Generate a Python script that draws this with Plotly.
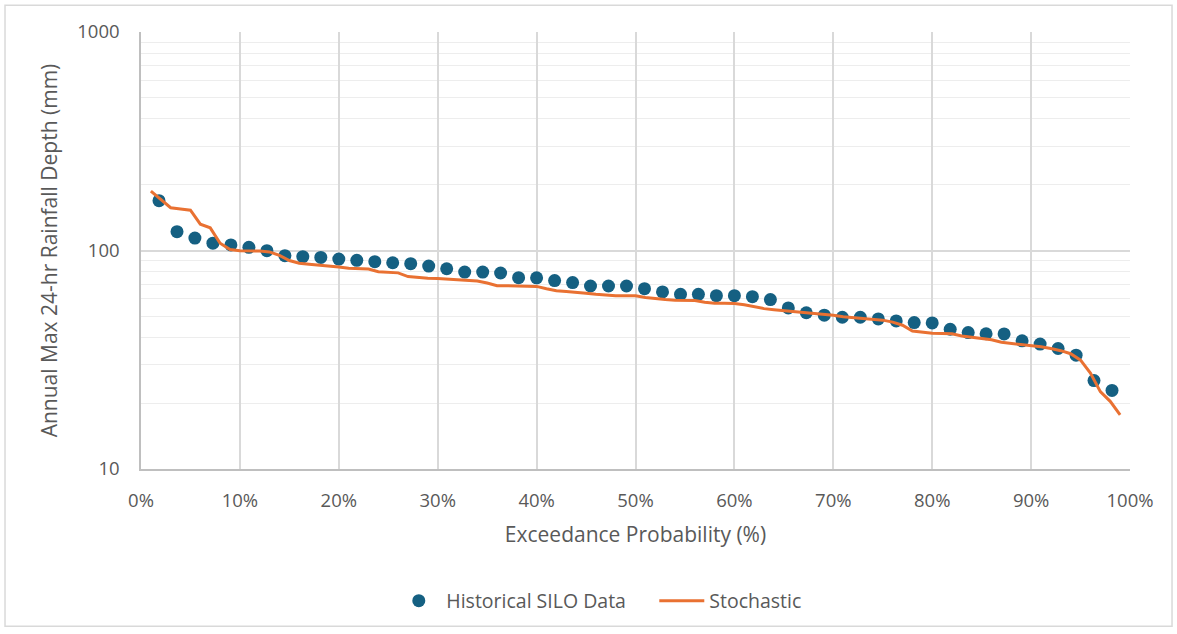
import plotly.graph_objects as go

# Historical SILO annual maxima, ranked (exceedance probability in %, depth in mm)
hist_prob = [1.82, 3.64, 5.45, 7.27, 9.09, 10.91, 12.73, 14.55, 16.36, 18.18,
             20.00, 21.82, 23.64, 25.45, 27.27, 29.09, 30.91, 32.73, 34.55, 36.36,
             38.18, 40.00, 41.82, 43.64, 45.45, 47.27, 49.09, 50.91, 52.73, 54.55,
             56.36, 58.18, 60.00, 61.82, 63.64, 65.45, 67.27, 69.09, 70.91, 72.73,
             74.55, 76.36, 78.18, 80.00, 81.82, 83.64, 85.45, 87.27, 89.09, 90.91,
             92.73, 94.55, 96.36, 98.18]
hist_depth = [169, 122, 114, 108, 106, 103.4, 99.8, 94.7, 93.7, 93.0,
              91.4, 90.2, 88.9, 87.9, 87.0, 84.9, 82.5, 79.7, 79.7, 78.9,
              75.1, 75.0, 72.8, 71.3, 68.8, 68.8, 68.8, 66.9, 64.6, 63.0,
              63.0, 62.1, 62.1, 61.5, 59.6, 54.6, 51.9, 50.6, 49.5, 49.5,
              48.6, 47.6, 46.8, 46.6, 43.6, 42.1, 41.6, 41.5, 38.6, 37.3,
              35.6, 33.2, 25.4, 22.9]

# Stochastic replicate frequency curve
stoch_prob = [1, 2, 3, 4, 5, 6, 7, 8, 9, 10,
              11, 12, 13, 14, 15, 16, 17, 18, 19, 20,
              21, 22, 23, 24, 25, 26, 27, 28, 29, 30,
              31, 32, 33, 34, 35, 36, 37, 38, 39, 40,
              41, 42, 43, 44, 45, 46, 47, 48, 49, 50,
              51, 52, 53, 54, 55, 56, 57, 58, 59, 60,
              61, 62, 63, 64, 65, 66, 67, 68, 69, 70,
              71, 72, 73, 74, 75, 76, 77, 78, 79, 80,
              81, 82, 83, 84, 85, 86, 87, 88, 89, 90,
              91, 92, 93, 94, 95, 96, 97, 98, 99]
stoch_depth = [187, 172, 157, 155, 153, 132, 127, 108, 101, 99.8,
               99.6, 99.5, 98.5, 95, 90, 87.5, 86.5, 85.8, 85, 84,
               83, 82.3, 82.2, 80, 79.2, 79, 76, 75.2, 74.6, 74.4,
               74, 73.5, 73.2, 72.5, 71, 69, 69, 69, 69, 68.5,
               66.8, 65.5, 65, 64.5, 63.8, 63, 62.3, 62, 62, 62,
               61, 60.2, 59.6, 59.2, 59, 59, 58, 57.4, 57.4, 57.2,
               56.5, 55.3, 54.2, 53.6, 53.1, 52.7, 52.2, 51.8, 51.3, 50.5,
               49.8, 49.3, 48.9, 48.4, 48, 47, 45.5, 42.8, 42.2, 41.8,
               41.7, 41.6, 40.6, 40.1, 39.7, 39, 38, 37.6, 37.3, 36.8,
               36.3, 35.6, 34.8, 33.7, 31.5, 27.5, 22.6, 20.4, 17.7]

y_tick_vals = [10, 100, 1000]
y_tick_text = ["10", "100", "1000"]

FONT = "Open Sans, Lato, sans-serif"
GREY_TEXT = "#595959"

fig = go.Figure()

fig.add_trace(go.Scatter(
    x=hist_prob, y=hist_depth, mode="markers",
    name="Historical SILO Data",
    marker=dict(color="#156082", size=13, line=dict(width=0)),
))
fig.add_trace(go.Scatter(
    x=stoch_prob, y=stoch_depth, mode="lines",
    name="Stochastic",
    line=dict(color="#E97132", width=3),
))

fig.update_layout(
    width=1177, height=634,
    margin=dict(l=141, r=47, t=32, b=165),
    paper_bgcolor="white", plot_bgcolor="white",
    font=dict(family=FONT, color=GREY_TEXT, size=18),
    showlegend=True,
    legend=dict(
        orientation="h", x=0.519, xanchor="center", y=-0.302, yanchor="middle",
        font=dict(size=19.5, color=GREY_TEXT), itemwidth=45,
        entrywidth=203, entrywidthmode="pixels",
        traceorder="normal",
    ),
    xaxis=dict(
        range=[0, 100], dtick=10, ticksuffix="%",
        showgrid=True, gridcolor="#d9d9d9", gridwidth=1.5,
        showline=True, linecolor="#bfbfbf", linewidth=1.5,
        zeroline=False, ticks="", ticklabelstandoff=14,
        tickfont=dict(size=18.5, color=GREY_TEXT),
        title=dict(text="Exceedance Probability (%)", font=dict(size=21, color=GREY_TEXT), standoff=16),
    ),
    yaxis=dict(
        type="log", range=[1, 3],
        tickvals=y_tick_vals, ticktext=y_tick_text,
        showgrid=True, gridcolor="#d9d9d9", gridwidth=1.5,
        showline=True, linecolor="#bfbfbf", linewidth=1.5,
        zeroline=False, ticks="", ticklabelstandoff=16,
        minor=dict(dtick="D1", showgrid=True, gridcolor="#ededed", gridwidth=1, ticks=""),
        tickfont=dict(size=18.5, color=GREY_TEXT),
        title=dict(text="Annual Max 24-hr Rainfall Depth (mm)", font=dict(size=21, color=GREY_TEXT), standoff=14),
    ),
    shapes=[dict(
        type="rect", xref="paper", yref="paper",
        x0=-0.1375, x1=1.0425, y0=-0.36, y1=1.061,
        line=dict(color="#d9d9d9", width=1.5), fillcolor="rgba(0,0,0,0)", layer="below",
    )],
)

fig.write_html("out.html")
